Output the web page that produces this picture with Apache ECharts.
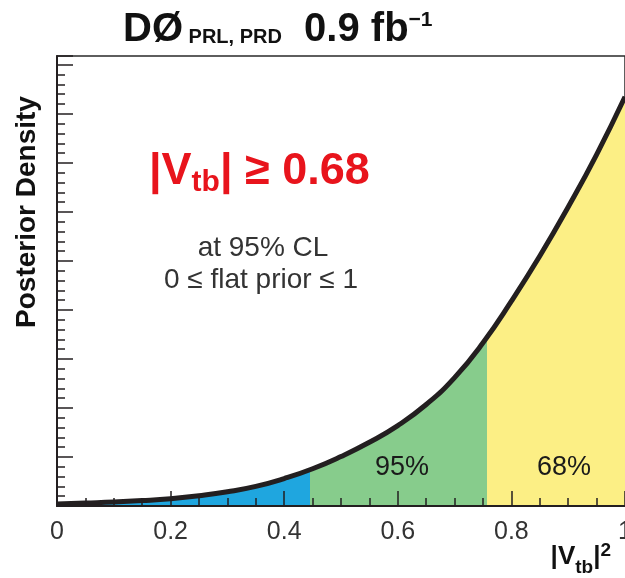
<!DOCTYPE html>
<html>
<head>
<meta charset="utf-8">
<script src="https://cdn.jsdelivr.net/npm/echarts@6/dist/echarts.min.js"></script>
<style>
  html, body { margin: 0; padding: 0; background: #ffffff; }
  #chart { width: 625px; height: 578px; }
</style>
</head>
<body>
<div id="chart"></div>
<script>
// Posterior density sampled along |Vtb|^2
const vtb2 = [0.00, 0.05, 0.10, 0.15, 0.20, 0.25, 0.30, 0.35, 0.40, 0.45, 0.50,
              0.55, 0.60, 0.65, 0.70, 0.75, 0.80, 0.85, 0.90, 0.95, 1.00];
const posterior = [0.04, 0.06, 0.08, 0.11, 0.15, 0.21, 0.29, 0.40, 0.56, 0.76, 1.01,
                   1.30, 1.64, 2.07, 2.62, 3.33, 4.18, 5.10, 6.10, 7.17, 8.35];

// x-axis tick values
const xTickValues = [0, 0.2, 0.4, 0.6, 0.8, 1];

// lower edges of the 95% and 68% credible regions
const clEdges = [0.445, 0.757];
const regionLabels = ['95%', '68%'];
const regionColors = ['#1fa6df', '#87cc8c', '#fcef85'];

const FONT = '"Liberation Sans", Arial, Helvetica, sans-serif';
const INK = '#231f20';

const chart = echarts.init(document.getElementById('chart'), null, { renderer: 'canvas' });
const points = vtb2.map((x, i) => [x, posterior[i]]);

// text measuring for placing mixed-size runs on one baseline
const mctx = document.createElement('canvas').getContext('2d');
function textWidth(str, size, weight) {
  mctx.font = `${weight} ${size}px ${FONT}`;
  return mctx.measureText(str).width;
}
// spans: {text, size, weight, raise, color}; anchor: left | center | right
function textRun(x0, baseline, spans, color, anchor) {
  const widths = spans.map(s => textWidth(s.text, s.size, s.weight || 'normal'));
  const total = widths.reduce((a, b) => a + b, 0);
  let x = anchor === 'center' ? x0 - total / 2 : anchor === 'right' ? x0 - total : x0;
  return spans.map((s, i) => {
    const el = {
      type: 'text',
      x: x,
      y: baseline - (s.raise || 0) - 0.3465 * s.size,
      z: 100,
      style: {
        text: s.text,
        fontSize: s.size,
        fontWeight: s.weight || 'normal',
        fontFamily: FONT,
        fill: s.color || color,
        align: 'left',
        verticalAlign: 'middle'
      }
    };
    x += widths[i];
    return el;
  });
}

const graphics = [].concat(
  // heading
  textRun(123, 44, [
    { text: 'DØ', size: 40, weight: 'bold' },
    { text: ' PRL, PRD', size: 20, weight: 'bold' },
    { text: '  0.9 fb', size: 40, weight: 'bold' },
    { text: '\u22121', size: 21, weight: 'bold', raise: 17 }
  ], '#111111', 'left'),
  // result
  textRun(149, 187, [
    { text: '|V', size: 45, weight: 'bold' },
    { text: 'tb', size: 30, weight: 'bold', raise: -6 },
    { text: '| \u2265 0.68', size: 45, weight: 'bold' }
  ], '#e8141c', 'left'),
  textRun(263, 258, [{ text: 'at 95% CL', size: 28 }], '#333333', 'center'),
  textRun(261, 290, [{ text: '0 \u2264 flat prior \u2264 1', size: 28 }], '#333333', 'center'),
  // region labels
  textRun(402, 477, [{ text: regionLabels[0], size: 27 }], '#1a1a1a', 'center'),
  textRun(564, 477, [{ text: regionLabels[1], size: 27 }], '#1a1a1a', 'center'),
  // x-axis title
  textRun(611, 566, [
    { text: '|V', size: 26, weight: 'bold' },
    { text: 'tb', size: 19, weight: 'bold', raise: -8 },
    { text: '|', size: 26, weight: 'bold' },
    { text: '2', size: 19, weight: 'bold', raise: 9 }
  ], '#111111', 'right'),
  // y-axis title
  [{
    type: 'text',
    x: 27, y: 212, rotation: Math.PI / 2, z: 100,
    style: {
      text: 'Posterior Density', fontSize: 28, fontWeight: 'bold', fontFamily: FONT,
      fill: '#111111', align: 'center', verticalAlign: 'middle'
    }
  }]
);

const option = {
  animation: false,
  backgroundColor: '#ffffff',
  grid: {
    left: 57, right: 0, top: 56, bottom: 72,
    outerBoundsMode: 'none',
    containLabel: false,
    show: true, borderColor: '#2a2a2a', borderWidth: 1.5, backgroundColor: 'transparent'
  },
  xAxis: {
    type: 'value',
    min: xTickValues[0],
    max: xTickValues[xTickValues.length - 1],
    interval: xTickValues[1] - xTickValues[0],
    z: 5,
    axisLine: { show: true, onZero: false, lineStyle: { color: INK, width: 2 } },
    axisTick: { show: true, inside: true, length: 15, lineStyle: { color: INK, width: 1.5 } },
    minorTick: { show: true, splitNumber: 4, length: 8, lineStyle: { color: INK, width: 1.5 } },
    splitLine: { show: false },
    axisLabel: {
      show: true, margin: 14, fontSize: 25, color: '#333333', fontFamily: FONT,
      hideOverlap: false,
      formatter: v => String(v)
    }
  },
  yAxis: {
    type: 'value',
    min: 0,
    max: 9.18,
    interval: 1,
    z: 5,
    axisLine: { show: true, lineStyle: { color: INK, width: 2 } },
    axisTick: { show: true, inside: true, length: 16, lineStyle: { color: INK, width: 1.5 } },
    minorTick: { show: true, splitNumber: 5, length: 8, lineStyle: { color: INK, width: 1.5 } },
    splitLine: { show: false },
    axisLabel: { show: false }
  },
  visualMap: {
    type: 'piecewise',
    show: false,
    dimension: 0,
    seriesIndex: 0,
    pieces: [
      { lt: clEdges[0], color: regionColors[0] },
      { gte: clEdges[0], lt: clEdges[1], color: regionColors[1] },
      { gte: clEdges[1], color: regionColors[2] }
    ]
  },
  series: [
    {
      type: 'line', data: points, smooth: 0.5, symbol: 'none',
      silent: true, z: 2,
      lineStyle: { width: 0, opacity: 0 },
      areaStyle: { opacity: 1 }
    },
    {
      type: 'line', data: points, smooth: 0.5, symbol: 'none',
      silent: true, z: 4,
      lineStyle: { color: INK, width: 5 }
    }
  ],
  graphic: graphics
};

chart.setOption(option);
</script>
</body>
</html>
